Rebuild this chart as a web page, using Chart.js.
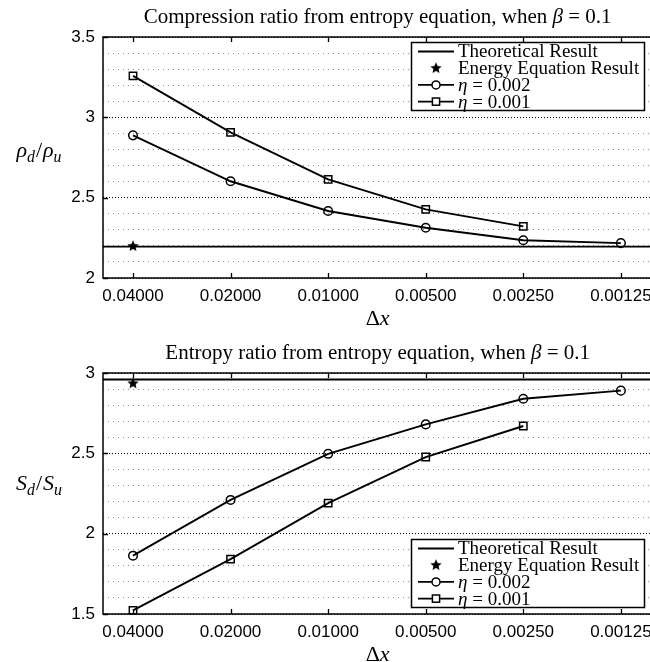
<!DOCTYPE html>
<html>
<head>
<meta charset="utf-8">
<script src="https://cdn.jsdelivr.net/npm/chart.js@4.4.0/dist/chart.umd.min.js"></script>
<style>
    html, body { margin: 0; padding: 0; background: #fff; width: 650px; height: 662px; overflow: hidden; }
    .wrap { position: absolute; left: 0; width: 660px; }
</style>
</head>
<body>
<div class="wrap" style="top:0;height:330px"><canvas id="compression" width="660" height="330"></canvas></div>
<div class="wrap" style="top:330px;height:332px"><canvas id="entropy" width="660" height="332"></canvas></div>
<script>
// Grid step sizes (x axis, log scale, reversed)
var dxValues = [0.04, 0.02, 0.01, 0.005, 0.0025, 0.00125];
var dxTickLabels = ['0.04000', '0.02000', '0.01000', '0.00500', '0.00250', '0.00125'];

// Compression ratio rho_d / rho_u
var rhoEta002 = [2.888, 2.602, 2.417, 2.313, 2.235, 2.217];
var rhoEta001 = [3.258, 2.906, 2.614, 2.427, 2.321];
var rhoTheory = 2.195;
var rhoEnergy = 2.198;

// Entropy ratio S_d / S_u
var sEta002 = [1.863, 2.21, 2.497, 2.68, 2.84, 2.89];
var sEta001 = [1.523, 1.842, 2.19, 2.477, 2.67];
var sTheory = 2.96;
var sEnergy = 2.935;

var legendLabels = ['Theoretical Result', 'Energy Equation Result', '\u03b7 = 0.002', '\u03b7 = 0.001'];

var X_MIN = 0.001;
var X_MAX = 0.0495;
var SERIF = '"Liberation Serif", "DejaVu Serif", serif';
var SANS = '"Liberation Sans", Arial, sans-serif';

// filled five point star used as the energy equation marker
function makeStar(r) {
    var s = Math.ceil(r * 2 + 2);
    var c = document.createElement('canvas');
    c.width = s;
    c.height = s;
    var g = c.getContext('2d');
    g.beginPath();
    for (var i = 0; i < 10; i++) {
        var a = -Math.PI / 2 + i * Math.PI / 5;
        var rr = (i % 2) ? r * 0.45 : r;
        g.lineTo(s / 2 + rr * Math.cos(a), s / 2 + rr * Math.sin(a));
    }
    g.closePath();
    g.fillStyle = '#000';
    g.fill();
    return c;
}
var starImg = makeStar(6);

function toPoints(values) {
    return values.map(function(v, i) { return { x: dxValues[i], y: v }; });
}

function isMajor(v) {
    return Math.abs(v * 2 - Math.round(v * 2)) < 1e-6;
}

// draw a string made of parts (italic / subscript) centred on cx, baseline by
function drawParts(ctx, parts, cx, by, size) {
    function fontOf(p) {
        return (p.it ? 'italic ' : '') + (p.sub ? size * 0.72 : size) + 'px ' + SERIF;
    }
    var widths = parts.map(function(p) {
        ctx.font = fontOf(p);
        return ctx.measureText(p.t).width + (p.gap || 0);
    });
    var total = widths.reduce(function(a, b) { return a + b; }, 0);
    var x = cx - total / 2;
    ctx.textBaseline = 'alphabetic';
    ctx.textAlign = 'left';
    parts.forEach(function(p, i) {
        ctx.font = fontOf(p);
        ctx.fillText(p.t, x, by + (p.sub ? size * 0.22 : 0));
        x += widths[i];
    });
}

var decorPlugin = {
    id: 'decor',
    afterDraw: function(chart) {
        var d = chart.options.plugins.decor;
        var ctx = chart.ctx;
        var a = chart.chartArea;
        var xs = chart.scales.x;
        var ys = chart.scales.y;
        ctx.save();
        ctx.fillStyle = '#000';
        ctx.strokeStyle = '#000';

        // frame
        ctx.lineWidth = 1.5;
        ctx.strokeRect(a.left, a.top, a.right - a.left, a.bottom - a.top);

        // inward tick marks
        ctx.lineWidth = 1.3;
        ctx.beginPath();
        dxValues.forEach(function(v) {
            var px = Math.round(xs.getPixelForValue(v)) + 0.5;
            ctx.moveTo(px, a.bottom); ctx.lineTo(px, a.bottom - 5);
            ctx.moveTo(px, a.top); ctx.lineTo(px, a.top + 5);
        });
        d.yMajor.forEach(function(v) {
            var py = Math.round(ys.getPixelForValue(v)) + 0.5;
            ctx.moveTo(a.left, py); ctx.lineTo(a.left + 5, py);
        });
        ctx.stroke();

        // titles
        var cx = (a.left + a.right) / 2;
        drawParts(ctx, d.title, cx, d.titleY, 21);
        drawParts(ctx, [{ t: '\u0394' }, { t: 'x', it: true }], cx, a.bottom + 47, 22);
        drawParts(ctx, d.yTitle, 39, d.yTitleY, 22);

        // legend box
        var L = d.legend;
        ctx.fillStyle = '#fff';
        ctx.fillRect(L.x, L.y, L.w, L.h);
        ctx.lineWidth = 1.5;
        ctx.strokeRect(L.x + 0.5, L.y + 0.5, L.w, L.h);
        ctx.fillStyle = '#000';
        chart.data.datasets.forEach(function(ds, i) {
            var ry = L.y + 9.5 + i * 16.7;
            var x0 = L.x + 7, x1 = L.x + 43, mx = (x0 + x1) / 2;
            if (ds.showLine !== false) {
                ctx.lineWidth = 1.9;
                ctx.beginPath();
                ctx.moveTo(x0, ry); ctx.lineTo(x1, ry);
                ctx.stroke();
            }
            if (ds.pointStyle === 'circle') {
                ctx.lineWidth = 1.5;
                ctx.fillStyle = '#fff';
                ctx.beginPath();
                ctx.arc(mx, ry, 4, 0, Math.PI * 2);
                ctx.fill();
                ctx.stroke();
            } else if (ds.pointStyle === 'rect') {
                ctx.lineWidth = 1.5;
                ctx.fillStyle = '#fff';
                ctx.fillRect(mx - 3.6, ry - 3.6, 7.2, 7.2);
                ctx.strokeRect(mx - 3.6, ry - 3.6, 7.2, 7.2);
            } else if (ds.pointStyle === starImg) {
                ctx.drawImage(starImg, mx - starImg.width / 2, ry - starImg.height / 2);
            }
            ctx.fillStyle = '#000';
            var label = ds.label;
            ctx.textBaseline = 'middle';
            ctx.textAlign = 'left';
            if (label.charAt(0) === '\u03b7') {
                ctx.font = 'italic 19px ' + SERIF;
                ctx.fillText('\u03b7', L.x + 47, ry + 1);
                var w = ctx.measureText('\u03b7').width;
                ctx.font = '19px ' + SERIF;
                ctx.fillText(label.slice(1), L.x + 47 + w, ry + 1);
            } else {
                ctx.font = '19px ' + SERIF;
                ctx.fillText(label, L.x + 47, ry + 1);
            }
        });
        ctx.restore();
    }
};

function makeChart(canvasId, cfg) {
    var ctx = document.getElementById(canvasId).getContext('2d');
    return new Chart(ctx, {
        type: 'line',
        data: {
            datasets: [{
                label: legendLabels[0],
                data: [{ x: X_MAX, y: cfg.theory }, { x: X_MIN, y: cfg.theory }],
                borderColor: '#000',
                borderWidth: 1.9,
                pointRadius: 0
            }, {
                label: legendLabels[1],
                data: [{ x: dxValues[0], y: cfg.energy }],
                showLine: false,
                pointStyle: starImg,
                pointRadius: 5
            }, {
                label: legendLabels[2],
                data: toPoints(cfg.eta002),
                borderColor: '#000',
                borderWidth: 1.9,
                pointStyle: 'circle',
                pointRadius: 4.3,
                pointBorderWidth: 1.5,
                pointBorderColor: '#000',
                pointBackgroundColor: 'rgba(0,0,0,0)'
            }, {
                label: legendLabels[3],
                data: toPoints(cfg.eta001),
                borderColor: '#000',
                borderWidth: 1.9,
                pointStyle: 'rect',
                pointRadius: 5.2,
                pointBorderWidth: 1.5,
                pointBorderColor: '#000',
                pointBackgroundColor: 'rgba(0,0,0,0)'
            }]
        },
        options: {
            responsive: false,
            animation: false,
            clip: false,
            layout: { padding: { top: cfg.top, right: 6, left: 0, bottom: 0 } },
            scales: {
                x: {
                    type: 'logarithmic',
                    reverse: true,
                    min: X_MIN,
                    max: X_MAX,
                    afterBuildTicks: function(scale) {
                        scale.ticks = dxValues.map(function(v) { return { value: v }; });
                    },
                    afterFit: function(scale) { scale.height = cfg.xHeight; },
                    ticks: {
                        autoSkip: false,
                        maxRotation: 0,
                        padding: 8,
                        color: '#000',
                        font: { family: SANS, size: 17 },
                        callback: function(v) {
                            var i = dxValues.indexOf(v);
                            return i >= 0 ? dxTickLabels[i] : '';
                        }
                    },
                    grid: { display: false, drawTicks: false },
                    border: { display: false }
                },
                y: {
                    min: cfg.yMin,
                    max: cfg.yMax,
                    afterFit: function(scale) { scale.width = 103; },
                    ticks: {
                        stepSize: 0.1,
                        maxTicksLimit: 40,
                        autoSkip: false,
                        padding: 8,
                        color: '#000',
                        font: { family: SANS, size: 17 },
                        callback: function(v) { return isMajor(v) ? String(Math.round(v * 10) / 10) : ''; }
                    },
                    grid: {
                        drawTicks: false,
                        lineWidth: 1,
                        color: function(c) { return isMajor(c.tick.value) ? '#000' : '#8c8c8c'; }
                    },
                    border: {
                        display: false,
                        dash: function(c) { return isMajor(c.tick.value) ? [1, 2] : [1, 4]; }
                    }
                }
            },
            plugins: {
                legend: { display: false },
                tooltip: { enabled: false },
                decor: {
                    title: cfg.title,
                    titleY: cfg.titleY,
                    yTitle: cfg.yTitle,
                    yTitleY: cfg.yTitleY,
                    yMajor: cfg.yMajor,
                    legend: cfg.legend
                }
            }
        },
        plugins: [decorPlugin]
    });
}

makeChart('compression', {
    theory: rhoTheory,
    energy: rhoEnergy,
    eta002: rhoEta002,
    eta001: rhoEta001,
    yMin: 2,
    yMax: 3.5,
    yMajor: [2, 2.5, 3, 3.5],
    top: 37,
    xHeight: 52,
    title: [{ t: 'Compression ratio from entropy equation, when ' }, { t: '\u03b2', it: true }, { t: ' = 0.1' }],
    titleY: 23,
    yTitle: [{ t: '\u03c1', it: true }, { t: 'd', it: true, sub: true, gap: 1 }, { t: '/', gap: 1 }, { t: '\u03c1', it: true }, { t: 'u', it: true, sub: true }],
    yTitleY: 157,
    legend: { x: 411, y: 42, w: 233, h: 68 }
});

makeChart('entropy', {
    theory: sTheory,
    energy: sEnergy,
    eta002: sEta002,
    eta001: sEta001,
    yMin: 1.5,
    yMax: 3,
    yMajor: [1.5, 2, 2.5, 3],
    top: 43,
    xHeight: 48,
    title: [{ t: 'Entropy ratio from entropy equation, when ' }, { t: '\u03b2', it: true }, { t: ' = 0.1' }],
    titleY: 29,
    yTitle: [{ t: 'S', it: true }, { t: 'd', it: true, sub: true, gap: 1 }, { t: '/', gap: 1 }, { t: 'S', it: true }, { t: 'u', it: true, sub: true }],
    yTitleY: 160,
    legend: { x: 411, y: 209, w: 233, h: 68 }
});
</script>
</body>
</html>
